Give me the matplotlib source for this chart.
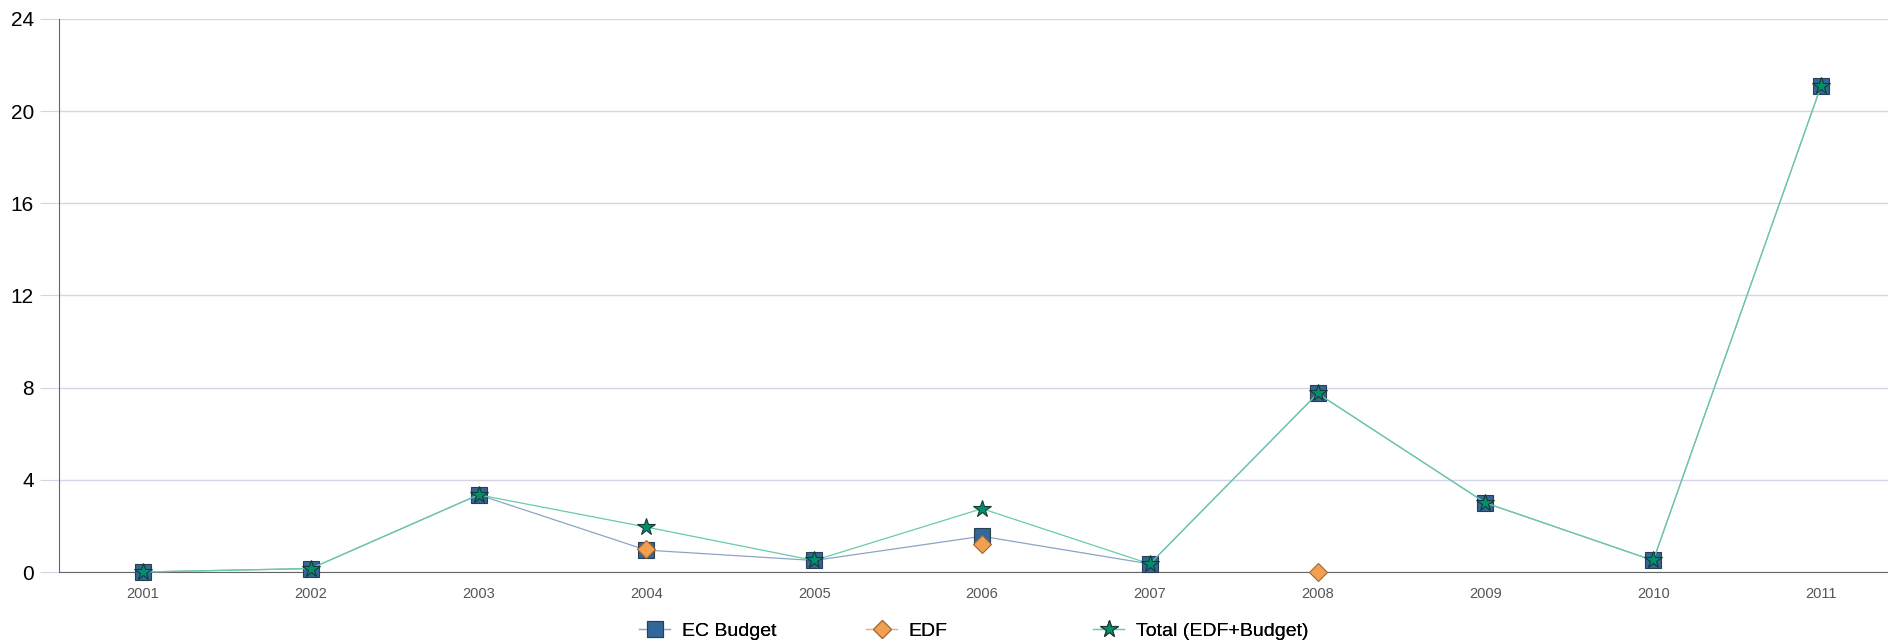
import numpy as np
import matplotlib.pyplot as plt

plt.rcParams['font.family'] = ['Liberation Sans', 'DejaVu Sans']

years = ['2001', '2002', '2003', '2004', '2005', '2006', '2007', '2008', '2009', '2010', '2011']
ec_budget = [0.0, 0.15, 3.35, 0.95, 0.5, 1.55, 0.35, 7.75, 3.0, 0.5, 21.1]
edf = [np.nan, np.nan, np.nan, 1.0, np.nan, 1.2, np.nan, 0.0, np.nan, np.nan, np.nan]
total = [0.0, 0.15, 3.35, 1.95, 0.5, 2.75, 0.35, 7.75, 3.0, 0.5, 21.1]

x = np.arange(len(years))

fig = plt.figure(figsize=(18.88, 6.41), dpi=100)
ax = fig.add_axes([59 / 1888, 1 - 572 / 641, 1846 / 1888, (572 - 19) / 641])

l1, = ax.plot(x, ec_budget, color='#8fa3c8', lw=0.9, marker='s', ms=12,
              mfc='#336699', mec='#2a3f55', mew=0.8, label='EC Budget',
              zorder=3, clip_on=False)
l2, = ax.plot(x, edf, color='#f0b070', lw=0.9, marker='D', ms=9,
              mfc='#f0a050', mec='#a06830', mew=0.8, label='EDF',
              zorder=4, clip_on=False)
l3, = ax.plot(x, total, color='#66ccaa', lw=0.9, marker='*', ms=13,
              mfc='#009070', mec='#1a3a30', mew=0.8, label='Total (EDF+Budget)',
              zorder=5, clip_on=False)

ax.set_xlim(-0.5, 10.5)
ax.set_ylim(0, 24)
ax.set_yticks([0, 4, 8, 12, 16, 20, 24])
ax.set_xticks(x)
ax.set_xticklabels(years)
ax.grid(axis='y', color='#d4d4e4', lw=1)
ax.set_axisbelow(True)

for s in ['top', 'right']:
    ax.spines[s].set_visible(False)
ax.spines['left'].set_color('#666666')
ax.spines['bottom'].set_color('#666666')

ax.tick_params(axis='y', length=14, color='#d4d4e4', labelsize=15, pad=4)
ax.tick_params(axis='x', length=0, labelsize=10.5, labelcolor='#555555', pad=11)

# three evenly spaced legend entries at the bottom
for line, xpos in zip([l1, l2, l3], [639, 866, 1093]):
    leg = fig.legend(handles=[line], loc='center left',
                     bbox_to_anchor=(xpos / 1888, 1 - 631 / 641),
                     frameon=False, fontsize=14, handlelength=1.6,
                     borderpad=0, borderaxespad=0, handletextpad=0.6)
    fig.add_artist(leg)

fig.savefig('out.png', dpi=100)
